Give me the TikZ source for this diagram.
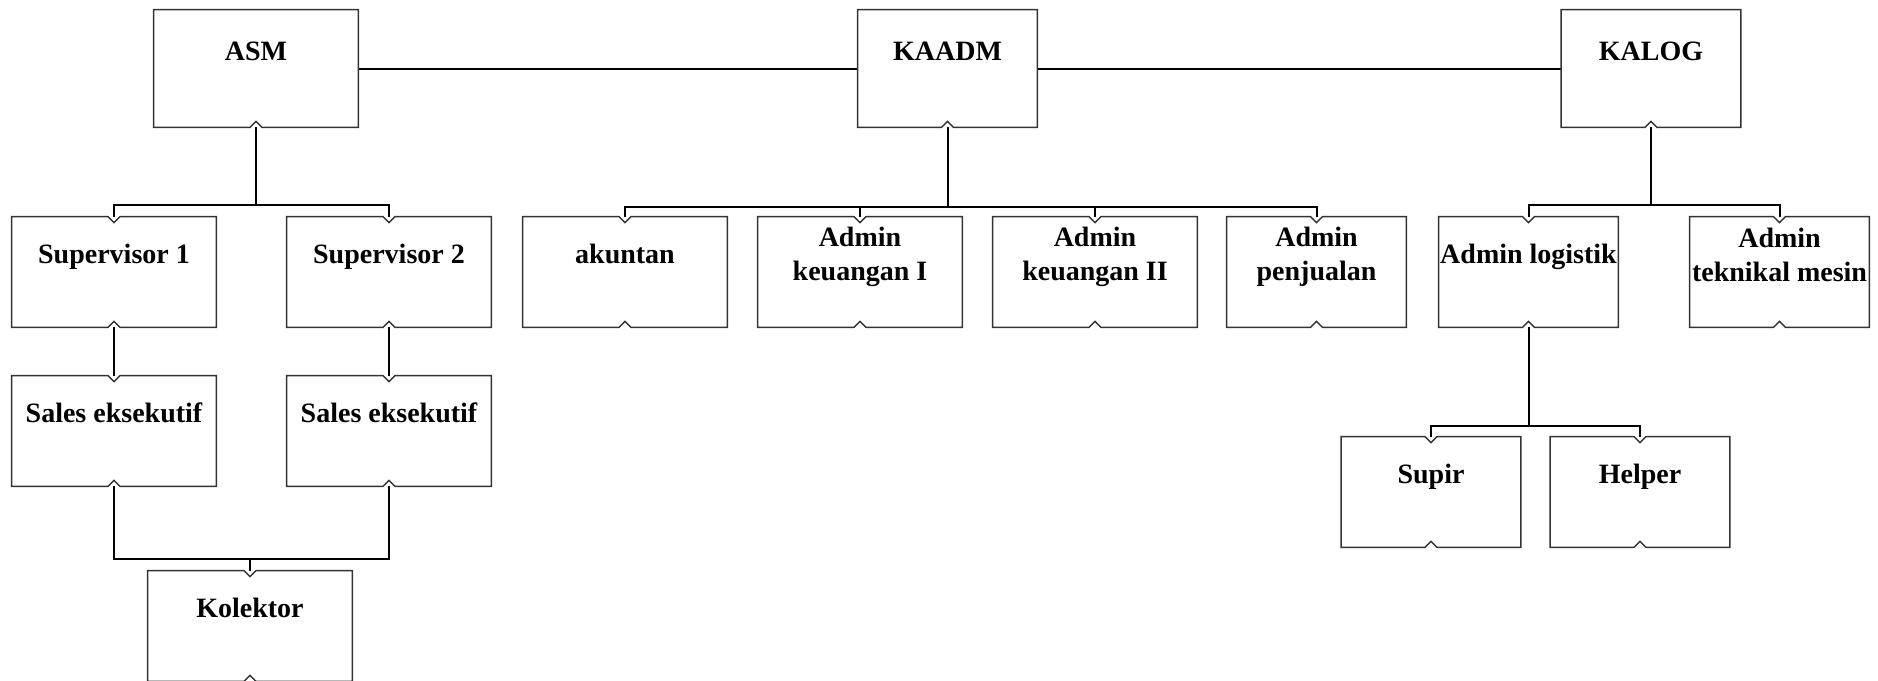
\documentclass[tikz,border=0pt]{standalone}
\usepackage{fontspec}
\setmainfont{Liberation Serif}

\begin{document}
\begin{tikzpicture}[x=0.5pt, y=-0.5pt,
    box/.style={rectangle, inner sep=0pt, minimum width=89.5pt, minimum height=55pt},
    widebox/.style={box, minimum width=102pt},
    topbox/.style={minimum height=58.5pt},
    boxline/.style={line width=0.7pt, black!80},
    link/.style={line width=1pt},
    txt/.style={font=\bfseries\fontsize{14}{17}\selectfont, align=center, inner sep=0pt},
    oneline/.style={txt, text height=9.5pt, text depth=3pt}]
      \useasboundingbox (0,0) rectangle (1878,680);

      \node[widebox, topbox] (asm) at (256,68.5) {};
      \node[box, topbox] (kaadm) at (947.5,68.5) {};
      \node[box, topbox] (kalog) at (1651,68.5) {};

      \node[widebox] (sup1) at (114,272) {};
      \node[widebox] (sup2) at (389,272) {};
      \node[widebox] (sales1) at (114,431) {};
      \node[widebox] (sales2) at (389,431) {};
      \node[widebox] (kol) at (250,626) {};

      \node[widebox] (akun) at (625,272) {};
      \node[widebox] (keu1) at (860,272) {};
      \node[widebox] (keu2) at (1095,272) {};
      \node[box] (penj) at (1316.5,272) {};

      \node[box] (alog) at (1528.5,272) {};
      \node[box] (atek) at (1779.5,272) {};
      \node[box] (supir) at (1431,492) {};
      \node[box] (helper) at (1640,492) {};

      \node[oneline] (asm-txt) at ([yshift=-22.25pt]asm.north) {ASM};
      \node[oneline] (kaadm-txt) at ([yshift=-22.25pt]kaadm.north) {KAADM};
      \node[oneline] (kalog-txt) at ([yshift=-22.25pt]kalog.north) {KALOG};
      \node[oneline] (sup1-txt) at ([yshift=-20.25pt]sup1.north) {Supervisor 1};
      \node[oneline] (sup2-txt) at ([yshift=-20.25pt]sup2.north) {Supervisor 2};
      \node[oneline] (sales1-txt) at ([yshift=-20.25pt]sales1.north) {Sales eksekutif};
      \node[oneline] (sales2-txt) at ([yshift=-20.25pt]sales2.north) {Sales eksekutif};
      \node[oneline] (kol-txt) at ([yshift=-20.25pt]kol.north) {Kolektor};
      \node[oneline] (akun-txt) at ([yshift=-20.25pt]akun.north) {akuntan};
      \node[txt] (keu1-txt) at ([yshift=-20.25pt]keu1.north) {Admin\\keuangan I};
      \node[txt] (keu2-txt) at ([yshift=-20.25pt]keu2.north) {Admin\\keuangan II};
      \node[txt] (penj-txt) at ([yshift=-20.25pt]penj.north) {Admin\\penjualan};
      \node[oneline] (alog-txt) at ([yshift=-20.25pt]alog.north) {Admin logistik};
      \node[txt] (atek-txt) at ([yshift=-19pt]atek.north) {Admin\\teknikal mesin};
      \node[oneline] (supir-txt) at ([yshift=-20.25pt]supir.north) {Supir};
      \node[oneline] (helper-txt) at ([yshift=-20.25pt]helper.north) {Helper};

      \coordinate (asmbus) at (256,205);
      \coordinate (salesbus) at (250,559);
      \coordinate (admbus) at (947.5,207);
      \coordinate (logbus) at (1651,205);
      \coordinate (supbus) at (1528.5,426);

      \draw[link] (asm.east) -- (kaadm.west);
      \draw[link] (kaadm.east) -- (kalog.west);

      \draw[link] (asm.south) -- (asmbus);
      \draw[link] (sup1.north) |- (asmbus) -| (sup2.north);
      \draw[link] (sup1.south) -- (sales1.north);
      \draw[link] (sup2.south) -- (sales2.north);
      \draw[link] (sales1.south) |- (salesbus) -| (sales2.south);
      \draw[link] (salesbus) -- (kol.north);

      \draw[link] (kaadm.south) -- (admbus);
      \draw[link] (akun.north) |- (admbus) -| (penj.north);
      \draw[link] (keu1.north) -- (keu1.north |- admbus);
      \draw[link] (keu2.north) -- (keu2.north |- admbus);

      \draw[link] (kalog.south) -- (logbus);
      \draw[link] (alog.north) |- (logbus) -| (atek.north);
      \draw[link] (alog.south) -- (supbus);
      \draw[link] (supir.north) |- (supbus) -| (helper.north);

      \foreach \n in {asm,kaadm,kalog}
        \draw[boxline] (\n.north west) -- (\n.north east) -- (\n.south east) -- ([xshift=3pt]\n.south)
          -- ([yshift=3pt]\n.south) -- ([xshift=-3pt]\n.south) -- (\n.south west) -- cycle;
      \foreach \n in {sup1,sup2,sales1,sales2,kol,akun,keu1,keu2,penj,alog,atek,supir,helper}
        \draw[boxline] (\n.north west) -- ([xshift=-3pt]\n.north) -- ([yshift=-3pt]\n.north) -- ([xshift=3pt]\n.north)
          -- (\n.north east) -- (\n.south east) -- ([xshift=3pt]\n.south) -- ([yshift=3pt]\n.south)
          -- ([xshift=-3pt]\n.south) -- (\n.south west) -- cycle;
    \end{tikzpicture}
\end{document}
